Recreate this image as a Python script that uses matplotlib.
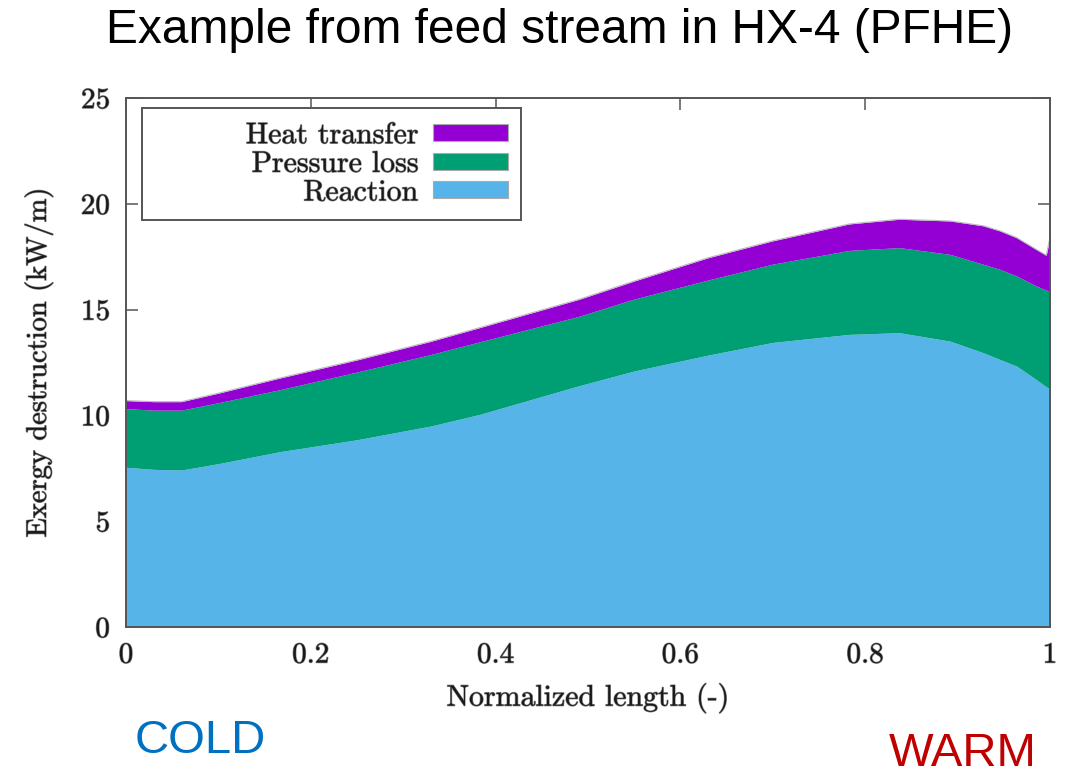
import matplotlib
matplotlib.use("Agg")
import matplotlib.pyplot as plt
import matplotlib.patheffects as pe
from matplotlib.patches import Rectangle, Patch
import numpy as np

# normalized position along the exchanger
length = [0.0, 0.03, 0.06, 0.10, 0.167, 0.25, 0.33, 0.383, 0.49, 0.55, 0.63,
          0.70, 0.783, 0.837, 0.892, 0.928, 0.946, 0.964, 0.985, 0.996, 1.0]

# exergy destruction contributions (kW/m)
reaction = [7.55, 7.45, 7.42, 7.72, 8.29, 8.85, 9.50, 10.05, 11.40, 12.10, 12.85,
            13.45, 13.83, 13.91, 13.51, 12.96, 12.64, 12.33, 11.70, 11.35, 11.26]
pressure_loss = [2.77, 2.80, 2.83, 2.88, 2.93, 3.20, 3.38, 3.43, 3.28, 3.40, 3.55,
                 3.70, 3.97, 4.02, 4.10, 4.18, 4.26, 4.26, 4.42, 4.57, 4.62]
heat_transfer = [0.38, 0.40, 0.40, 0.45, 0.55, 0.57, 0.62, 0.67, 0.80, 0.85, 1.05,
                 1.10, 1.25, 1.34, 1.58, 1.82, 1.82, 1.81, 1.73, 1.65, 2.52]

labels = ["Heat transfer", "Pressure loss", "Reaction"]
colors = {"Heat transfer": "#9400d3",
          "Pressure loss": "#009e73",
          "Reaction": "#56b4e9"}

plt.rcParams["axes.formatter.use_mathtext"] = True
serif = "cmr10"
text_color = "#1a1a1a"
# slightly heavier strokes on the serif text
halo = [pe.withStroke(linewidth=0.9, foreground="#8a8a8a")]

fig = plt.figure(figsize=(10.76, 7.78), dpi=100)
ax = fig.add_axes([0.1171, 0.1941, 0.8587, 0.6799])

x = np.array(length)
r = np.array(reaction)
p = r + np.array(pressure_loss)
h = p + np.array(heat_transfer)

ax.fill_between(x, 0, r, color=colors["Reaction"], lw=0)
ax.fill_between(x, r, p, color=colors["Pressure loss"], lw=0)
ax.fill_between(x, p, h, color=colors["Heat transfer"], lw=0)
ax.plot(x, h, color="#bbbbbb", lw=0.8)

ax.set_xlim(0, 1)
ax.set_ylim(0, 25)
ax.set_xticks([0, 0.2, 0.4, 0.6, 0.8, 1])
ax.set_xticklabels(["0", "0.2", "0.4", "0.6", "0.8", "1"])
ax.set_yticks([0, 5, 10, 15, 20, 25])
ax.set_axisbelow(True)
ax.tick_params(direction="in", length=8.5, width=1.1, color="#555555",
               top=True, right=True, labelsize=21, labelcolor=text_color)
ax.tick_params(axis="x", pad=11)
ax.tick_params(axis="y", pad=11)
for lab in ax.get_xticklabels() + ax.get_yticklabels():
    lab.set_fontfamily(serif)
    lab.set_path_effects(halo)
for s in ax.spines.values():
    s.set_color("#555555")
    s.set_linewidth(1.4)

ax.set_xlabel("Normalized length (-)", fontsize=21.5, family=serif,
              color=text_color, labelpad=10, path_effects=halo)
ax.set_ylabel("Exergy destruction (kW/m)", fontsize=20.5, family=serif,
              color=text_color, labelpad=20, path_effects=halo)

# key box
ax.add_patch(Rectangle((0.0173, 0.769), 0.4102, 0.212, transform=ax.transAxes,
                       fill=True, facecolor="white", edgecolor="#555555",
                       lw=1.4, zorder=4))
handles = [Patch(facecolor=colors[k], edgecolor="#aaaaaa", lw=0.8)
           for k in labels]
leg = ax.legend(handles, labels, loc="upper right",
                bbox_to_anchor=(0.4134, 0.955), frameon=False,
                markerfirst=False, handlelength=2.5, handleheight=0.5,
                handletextpad=0.5, labelspacing=0.04, borderpad=0.0,
                borderaxespad=0.0, prop={"family": serif, "size": 21.5})
leg.set_zorder(5)
for t in leg.get_texts():
    t.set_color(text_color)
    t.set_path_effects(halo)

fig.text(0.52, 0.961, "Example from feed stream in HX-4 (PFHE)",
         ha="center", va="center", fontsize=34.5, family="Liberation Sans",
         color="black")
fig.text(0.125, 0.048, "COLD", ha="left", va="center", fontsize=34,
         family="Liberation Sans", color="#0070c0")
fig.text(0.826, 0.003, "WARM", ha="left", va="bottom", fontsize=34,
         family="Liberation Sans", color="#c00000")

fig.savefig("out.png", dpi=100)
